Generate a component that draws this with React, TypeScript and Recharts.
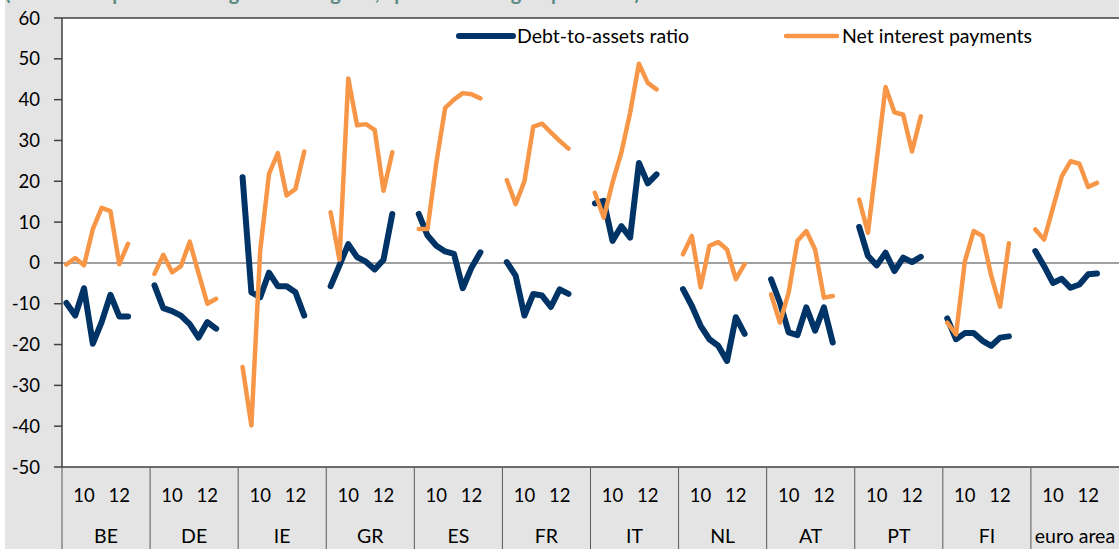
import { CartesianGrid, Line, LineChart, ReferenceLine, XAxis, YAxis } from "recharts"

// country groups, 10 half-year slots each (last two left empty as gap)
const countries = ["BE", "DE", "IE", "GR", "ES", "FR", "IT", "NL", "AT", "PT", "FI", "euro area"]
const periodLabels = ["", "", "10", "", "", "", "12", "", "", ""]

const debtToAssets = [
  [-9.8, -12.9, -6.2, -19.8, -14.5, -7.8, -13.1, -13.1],
  [-5.5, -11.1, -11.8, -12.9, -15, -18.3, -14.5, -16.1],
  [21, -7.2, -8.4, -2.4, -5.7, -5.7, -7.2, -12.9],
  [-5.7, -0.6, 4.6, 1.4, 0.3, -1.6, 0.8, 12],
  [12, 6.7, 4.2, 2.8, 2.2, -6.2, -1.1, 2.6],
  [0.2, -3.1, -12.9, -7.6, -8, -10.8, -6.5, -7.6],
  [14.6, 15.2, 5.4, 9, 6.2, 24.5, 19.5, 21.7],
  [-6.4, -10.5, -15.4, -18.7, -20.3, -24, -13.3, -17.4],
  [-4, -9.7, -17, -17.7, -10.9, -16.6, -10.9, -19.5],
  [8.8, 1.7, -0.6, 2.5, -2, 1.3, 0.2, 1.5],
  [-13.6, -18.7, -17.2, -17.2, -19.1, -20.3, -18.3, -18],
  [2.9, -0.8, -4.9, -3.9, -6.1, -5.3, -2.8, -2.6],
]

const netInterest = [
  [-0.4, 1.2, -0.6, 8.3, 13.5, 12.7, -0.3, 4.7],
  [-2.7, 2.0, -2.3, -0.8, 5.2, -2.5, -10, -8.8],
  [-25.5, -39.8, 3, 21.8, 26.9, 16.5, 18.1, 27.3],
  [12.4, 0.8, 45.2, 33.7, 34, 32.6, 17.7, 27.1],
  [8.3, 8.3, 24.6, 38, 40, 41.6, 41.3, 40.3],
  [20.3, 14.4, 20, 33.4, 34.1, 32, 29.9, 28],
  [17.2, 11.1, 19.7, 27, 36.8, 48.8, 44.1, 42.5],
  [2.1, 6.6, -6, 4.2, 5.1, 3.3, -4, -0.3],
  [-7.7, -14.6, -7.2, 5.4, 7.8, 3.3, -8.5, -8.1],
  [15.5, 7.4, 25.3, 43.1, 36.9, 36.3, 27.3, 35.9],
  [-14.6, -17.5, 0.4, 7.8, 6.6, -3.2, -10.7, 4.8],
  [8.2, 5.7, 13.5, 21.2, 24.9, 24.3, 18.6, 19.6],
]

const yTicks = [-50, -40, -30, -20, -10, 0, 10, 20, 30, 40, 50, 60]

const series = [
  { key: "debt", name: "Debt-to-assets ratio", color: "#003366", width: 6 },
  { key: "interest", name: "Net interest payments", color: "#f79646", width: 4.5 },
]

const rows = countries.flatMap((country, c) =>
  periodLabels.map((period, s) => ({
    key: `${country}-${s}`,
    country,
    period,
    slot: s,
    debt: debtToAssets[c][s] ?? null,
    interest: netInterest[c][s] ?? null,
  }))
)

const FONT = "Lato, 'Open Sans', sans-serif"
const W = 1119
const H = 549
const PLOT_LEFT = 62
const STEP = (W - PLOT_LEFT) / rows.length

function CategoryTick(props: any) {
  const { x, y, payload } = props
  const row = rows[payload.index]
  if (!row) return null
  const half = payload.offset > 0 ? payload.offset : STEP / 2
  return (
    <g>
      {row.slot === 0 && <line x1={x - half} x2={x - half} y1={y} y2={H} stroke="#595959" strokeWidth={1} />}
      {row.period && (
        <text x={x} y={y + 35} textAnchor="middle" fontSize={18.5} fontFamily={FONT} fill="#000">
          {row.period}
        </text>
      )}
      {row.slot === 4 && (
        <text x={x + half} y={y + 76} textAnchor="middle" fontSize={19.5} fontFamily={FONT} fill="#000">
          {row.country}
        </text>
      )}
    </g>
  )
}

export default function App() {
  return (
    <div style={{ position: "absolute", left: 0, top: 0, width: W, height: H, background: "#fff", overflow: "hidden" }}>
      <div style={{ position: "absolute", left: 5, top: 0, width: W - 5, height: H, background: "#e4e4e4" }} />
      <svg width={W} height={20} style={{ position: "absolute", left: 0, top: 0 }}>
        <text x={5} y={0} fontSize={20} fontWeight="bold" fontFamily={FONT} fill="#5b8a85" textLength={635}>
          (annual percentage changes; percentage points)
        </text>
      </svg>
      <div style={{ position: "absolute", left: 0, top: 0 }}>
        <LineChart width={W} height={H} data={rows} margin={{ top: 18, right: 0, bottom: 0, left: 0 }}>
          <CartesianGrid fill="#ffffff" horizontal={false} vertical={false} />
          <XAxis
            dataKey="key"
            type="category"
            scale="band"
            interval={0}
            height={82}
            tickLine={false}
            tickSize={0}
            tickMargin={0}
            axisLine={{ stroke: "#404040", strokeWidth: 1.5 }}
            tick={<CategoryTick />}
          />
          <YAxis
            domain={[-50, 60]}
            ticks={yTicks}
            interval={0}
            width={PLOT_LEFT}
            tickSize={8}
            tickMargin={14}
            tickLine={{ stroke: "#404040", strokeWidth: 1.5 }}
            axisLine={{ stroke: "#404040", strokeWidth: 1.5 }}
            tick={{ fontSize: 18.5, fontFamily: FONT, fill: "#000" }}
          />
          <ReferenceLine y={0} stroke="#808080" strokeWidth={1.5} />
          <ReferenceLine y={60} stroke="#404040" strokeWidth={1.5} />
          {series.map((s) => (
            <Line
              key={s.key}
              type="linear"
              dataKey={s.key}
              name={s.name}
              stroke={s.color}
              strokeWidth={s.width}
              strokeLinecap="round"
              strokeLinejoin="round"
              dot={false}
              activeDot={false}
              connectNulls={false}
              isAnimationActive={false}
            />
          ))}
        </LineChart>
      </div>
      <svg width={W} height={60} style={{ position: "absolute", left: 0, top: 0, pointerEvents: "none" }}>
        <line x1={459} x2={513} y1={36} y2={36} stroke={series[0].color} strokeWidth={6} strokeLinecap="round" />
        <text x={517} y={43} fontSize={19.5} fontFamily={FONT} fill="#000">
          {series[0].name}
        </text>
        <line x1={786} x2={837} y1={36} y2={36} stroke={series[1].color} strokeWidth={4.5} strokeLinecap="round" />
        <text x={842} y={43} fontSize={19.5} fontFamily={FONT} fill="#000">
          {series[1].name}
        </text>
      </svg>
    </div>
  )
}
